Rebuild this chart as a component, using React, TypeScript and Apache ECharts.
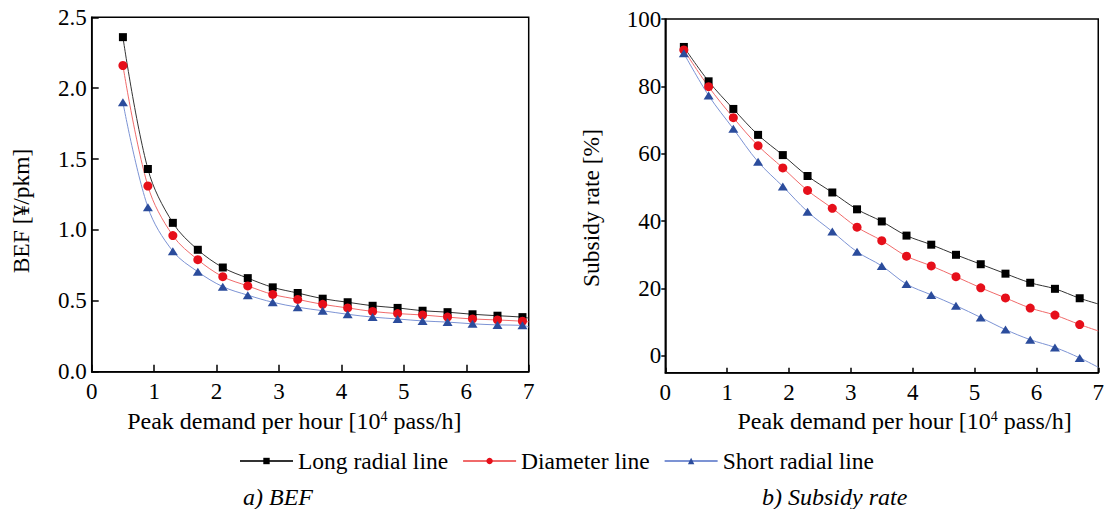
import React, { useEffect, useRef } from "react";
import * as echarts from "echarts";

// ---- Data ----
const seriesNames = ["Long radial line", "Diameter line", "Short radial line"];

// a) BEF [¥/pkm] vs peak demand [10^4 pass/h]
const befX = [0.5, 0.9, 1.3, 1.7, 2.1, 2.5, 2.9, 3.3, 3.7, 4.1, 4.5, 4.9, 5.3, 5.7, 6.1, 6.5, 6.9];
const befLong = [2.36, 1.43, 1.05, 0.86, 0.735, 0.66, 0.595, 0.555, 0.515, 0.49, 0.465, 0.45, 0.43, 0.42, 0.405, 0.395, 0.385];
const befDiameter = [2.16, 1.31, 0.96, 0.79, 0.67, 0.605, 0.545, 0.51, 0.475, 0.45, 0.425, 0.41, 0.4, 0.385, 0.372, 0.365, 0.356];
const befShort = [1.9, 1.16, 0.85, 0.705, 0.6, 0.54, 0.49, 0.455, 0.43, 0.405, 0.385, 0.372, 0.358, 0.35, 0.338, 0.33, 0.327];
// value of each curve where it meets the right border (x = 7): long, diameter, short
const befLineEnds = [0.378, 0.352, 0.316];
const befYTicks = [0, 0.5, 1.0, 1.5, 2.0, 2.5];

// b) Subsidy rate [%] vs peak demand [10^4 pass/h]
const subX = [0.3, 0.7, 1.1, 1.5, 1.9, 2.3, 2.7, 3.1, 3.5, 3.9, 4.3, 4.7, 5.1, 5.5, 5.9, 6.3, 6.7];
const subLong = [91.7, 81.5, 73.3, 65.6, 59.6, 53.4, 48.5, 43.5, 39.9, 35.7, 33.0, 30.0, 27.2, 24.4, 21.7, 19.9, 17.1];
const subDiameter = [90.8, 79.9, 70.7, 62.4, 55.8, 49.1, 43.8, 38.2, 34.2, 29.6, 26.7, 23.5, 20.2, 17.2, 14.2, 12.1, 9.3];
const subShort = [89.8, 77.3, 67.4, 57.6, 50.3, 42.8, 36.9, 30.9, 26.7, 21.3, 18.1, 14.9, 11.4, 7.8, 4.8, 2.5, -0.6];
const subLineEnds = [15.4, 7.4, -3.4];
const subYTicks = [0, 20, 40, 60, 80, 100];

const xTicks = [0, 1, 2, 3, 4, 5, 6, 7];

// ---- Styles ----
const FONT = "Liberation Serif";
const markerColors = ["#000000", "#e60f1a", "#2b4c9c"];
const lineColors = ["#333333", "#f06a6a", "#7c93d4"];
const symbols = ["rect", "circle", "triangle"];
const symbolSizes: any[] = [8, 9, [10, 8]];

function buildData(xs: number[], ys: number[], endX: number, endY: number) {
  const d: any[] = xs.map((x, i) => [x, ys[i]]);
  d.push({ value: [endX, endY], symbol: "none" });
  return d;
}

export default function App() {
  const ref = useRef<HTMLDivElement>(null);

  useEffect(() => {
    if (!ref.current) return;
    const chart = echarts.init(ref.current, undefined, { renderer: "svg" });

    const axisLine = { show: true, onZero: false, lineStyle: { color: "#000", width: 1.5 } };
    const labelStyle = { color: "#000", fontFamily: FONT, fontSize: 23 };

    const befSets = [befLong, befDiameter, befShort];
    const subSets = [subLong, subDiameter, subShort];

    const series: any[] = [];
    [0, 1].forEach((k) => {
      const xs = k === 0 ? befX : subX;
      const sets = k === 0 ? befSets : subSets;
      const ends = k === 0 ? befLineEnds : subLineEnds;
      sets.forEach((ys, i) => {
        series.push({
          type: "line",
          name: seriesNames[i],
          xAxisIndex: k,
          yAxisIndex: k,
          data: buildData(xs, ys, xTicks[xTicks.length - 1], ends[i]),
          smooth: 0.35,
          symbol: symbols[i],
          symbolSize: symbolSizes[i],
          showAllSymbol: true,
          clip: true,
          itemStyle: { color: markerColors[i] },
          lineStyle: { color: lineColors[i], width: 1 },
          emphasis: { disabled: true },
        });
      });
    });

    const supRich = { sup: { fontFamily: FONT, fontSize: 14, verticalAlign: "top", padding: [0, 0, 8, 0] } };

    const option: any = {
      animation: false,
      backgroundColor: "#ffffff",
      textStyle: { fontFamily: FONT },
      grid: [
        { left: 91.7, top: 17.3, width: 437, height: 354.4, show: true, borderColor: "#000", borderWidth: 1.5, backgroundColor: "transparent" },
        { left: 665.3, top: 19, width: 437.2, height: 353.7, show: true, borderColor: "#000", borderWidth: 1.5, backgroundColor: "transparent" },
      ],
      xAxis: [0, 1].map((k) => ({
        type: "value",
        gridIndex: k,
        min: xTicks[0],
        max: xTicks[xTicks.length - 1],
        interval: 1,
        axisLine,
        axisTick: { show: true, inside: true, length: k === 0 ? 7 : 5, lineStyle: { color: "#000", width: 1.5 } },
        axisLabel: { ...labelStyle, margin: 8 },
        splitLine: { show: false },
      })),
      yAxis: [
        {
          type: "value",
          gridIndex: 0,
          min: befYTicks[0],
          max: befYTicks[befYTicks.length - 1],
          interval: 0.5,
          axisLine,
          axisTick: { show: true, inside: true, length: 7, lineStyle: { color: "#000", width: 1.5 } },
          axisLabel: { ...labelStyle, margin: 5, formatter: (v: number) => v.toFixed(1) },
          splitLine: { show: false },
        },
        {
          type: "value",
          gridIndex: 1,
          min: -5,
          max: subYTicks[subYTicks.length - 1],
          axisLine,
          axisTick: { show: true, inside: false, length: 4, customValues: subYTicks, lineStyle: { color: "#000", width: 1.5 } },
          axisLabel: { ...labelStyle, margin: 4, customValues: subYTicks },
          splitLine: { show: false },
        },
      ],
      legend: {
        left: 239,
        top: 449,
        padding: 0,
        itemWidth: 53,
        itemHeight: 8,
        itemGap: 14,
        data: seriesNames,
        textStyle: { fontFamily: FONT, fontSize: 23.5, color: "#000" },
      },
      graphic: [
        {
          type: "text",
          x: 294.3,
          y: 421,
          style: {
            text: "Peak demand per hour [10{sup|4} pass/h]",
            fontFamily: FONT,
            fontSize: 24,
            fill: "#000",
            align: "center",
            verticalAlign: "middle",
            rich: supRich,
          },
        },
        {
          type: "text",
          x: 904.5,
          y: 421,
          style: {
            text: "Peak demand per hour [10{sup|4} pass/h]",
            fontFamily: FONT,
            fontSize: 24,
            fill: "#000",
            align: "center",
            verticalAlign: "middle",
            rich: supRich,
          },
        },
        {
          type: "text",
          x: 21,
          y: 211,
          rotation: Math.PI / 2,
          style: { text: "BEF [¥/pkm]", fontFamily: FONT, fontSize: 23.5, fill: "#000", align: "center", verticalAlign: "middle" },
        },
        {
          type: "text",
          x: 591,
          y: 208,
          rotation: Math.PI / 2,
          style: { text: "Subsidy rate [%]", fontFamily: FONT, fontSize: 23.5, fill: "#000", align: "center", verticalAlign: "middle" },
        },
        {
          type: "text",
          x: 243,
          y: 497,
          style: { text: "a) BEF", fontFamily: FONT, fontStyle: "italic", fontSize: 24, fill: "#000", align: "left", verticalAlign: "middle" },
        },
        {
          type: "text",
          x: 762,
          y: 497,
          style: { text: "b) Subsidy rate", fontFamily: FONT, fontStyle: "italic", fontSize: 24, fill: "#000", align: "left", verticalAlign: "middle" },
        },
      ],
      series,
    };

    chart.setOption(option);
    return () => chart.dispose();
  }, []);

  return (
    <div
      ref={ref}
      style={{ position: "fixed", left: 0, top: 0, width: 1107, height: 509, background: "#fff" }}
    />
  );
}
